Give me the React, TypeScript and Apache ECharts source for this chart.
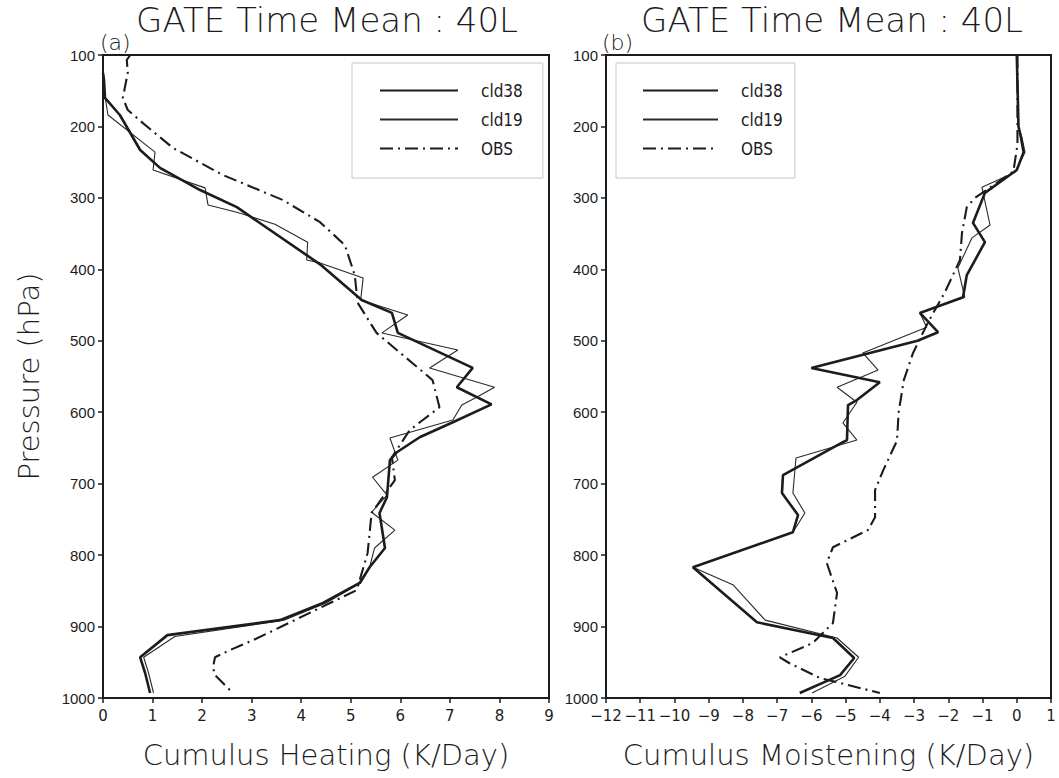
import React, { useEffect, useRef } from "react";
import * as echarts from "echarts";

// ---------- DATA (pressure in hPa, value in K/Day) ----------
const pressureTicks = [100, 200, 300, 400, 500, 600, 700, 800, 900, 1000];
const seriesNames = ["cld38", "cld19", "OBS"];

// Panel (a): Cumulus Heating
const heatCld38P = [125, 135, 160, 184, 233, 258, 289, 313, 393, 443, 461, 489, 538, 565, 589, 614, 635, 656, 667, 719, 741, 790, 817, 839, 867, 891, 912, 943, 965, 993];
const heatCld38V = [0, 0.02, 0.04, 0.34, 0.75, 1.15, 1.96, 2.7, 4.38, 5.22, 5.83, 5.95, 7.46, 7.14, 7.84, 7.06, 6.39, 5.93, 5.79, 5.73, 5.58, 5.69, 5.38, 5.18, 4.44, 3.57, 1.3, 0.75, 0.85, 0.95];

const heatCld19P = [140, 149, 184, 236, 261, 286, 310, 320, 337, 362, 387, 391, 412, 443, 464, 489, 513, 538, 565, 579, 590, 611, 636, 667, 691, 716, 740, 765, 790, 817, 839, 867, 891, 914, 943, 965, 993];
const heatCld19V = [0, 0.02, 0.1, 1.05, 1.01, 2.06, 2.12, 2.7, 3.47, 4.13, 4.11, 4.38, 5.25, 5.2, 6.15, 5.63, 7.16, 6.59, 7.9, 7.54, 7.24, 7.06, 5.79, 5.95, 5.44, 5.73, 5.42, 5.89, 5.48, 5.38, 5.2, 4.5, 3.65, 1.45, 0.82, 0.92, 1.02];

const heatObsP = [100, 107, 125, 160, 177, 195, 230, 268, 303, 334, 366, 408, 447, 489, 555, 593, 625, 663, 695, 741, 797, 849, 901, 919, 933, 943, 957, 968, 993];
const heatObsV = [0.55, 0.48, 0.5, 0.4, 0.5, 0.8, 1.41, 2.42, 3.63, 4.38, 4.88, 5.08, 5.14, 5.52, 6.65, 6.79, 6.19, 5.83, 5.89, 5.42, 5.34, 5.12, 3.57, 3.03, 2.56, 2.26, 2.22, 2.26, 2.62];

// Panel (b): Cumulus Moistening
const moistCld38P = [100, 200, 215, 236, 261, 293, 335, 362, 408, 439, 461, 488, 500, 538, 558, 583, 590, 639, 642, 688, 713, 744, 768, 817, 894, 916, 944, 968, 993];
const moistCld38V = [0, 0.05, 0.12, 0.2, 0, -0.93, -1.28, -0.93, -1.46, -1.57, -2.83, -2.3, -2.9, -6.0, -4.0, -4.67, -4.93, -4.96, -5.08, -6.83, -6.86, -6.39, -6.54, -9.46, -7.59, -5.37, -4.75, -5.16, -6.34];

const moistCld19P = [100, 200, 215, 236, 264, 285, 338, 356, 398, 439, 461, 481, 517, 541, 565, 586, 615, 639, 664, 713, 741, 768, 817, 842, 891, 916, 943, 970, 993];
const moistCld19V = [0, 0.05, 0.15, 0.24, -0.05, -1.02, -0.78, -1.31, -1.72, -1.52, -2.83, -2.63, -4.5, -4.05, -5.25, -4.67, -5.08, -4.67, -6.45, -6.54, -6.19, -6.54, -9.46, -8.28, -7.35, -5.25, -4.62, -5.03, -5.98];

const moistObsP = [100, 226, 263, 300, 313, 349, 387, 432, 475, 517, 555, 600, 640, 681, 709, 747, 765, 789, 811, 853, 895, 923, 943, 951, 972, 993];
const moistObsV = [0.02, 0.02, -0.1, -1.22, -1.46, -1.6, -1.66, -2.1, -2.6, -3.03, -3.3, -3.45, -3.5, -3.9, -4.14, -4.14, -4.35, -5.37, -5.55, -5.25, -5.37, -5.96, -6.92, -6.65, -5.75, -4.0];

// ---------- STYLE ----------
const INK = "#1c1c1c";
const HERSHEY = "DejaVu Sans";
const pair = (v: number[], p: number[]) => v.map((x, i) => [x, p[i]]);
const minus = (v: number) => String(v).replace("-", "\u2212");

const lineStyles: Record<string, any> = {
  cld38: { color: INK, width: 2.6 },
  cld19: { color: "#2a2a2a", width: 1.1 },
  OBS: { color: INK, width: 2.1, type: [13, 5, 2, 5] },
};

function makeXAxis(gridIndex: number, min: number, max: number, name: string) {
  return {
    gridIndex,
    type: "value",
    min,
    max,
    interval: 1,
    position: "bottom",
    name,
    nameLocation: "middle",
    nameGap: 42,
    nameTextStyle: { fontFamily: HERSHEY, fontSize: 29, fontWeight: 200, color: INK },
    axisLine: { show: true, onZero: false, lineStyle: { color: INK, width: 2 } },
    axisTick: { show: true, length: 5, lineStyle: { color: INK, width: 1.5 } },
    axisLabel: { margin: 10, fontFamily: HERSHEY, fontSize: 15, color: INK, formatter: minus },
    splitLine: { show: false },
  };
}

function makeYAxis(gridIndex: number, name: string) {
  return {
    gridIndex,
    type: "value",
    inverse: true,
    min: 100,
    max: 1000,
    interval: 100,
    name,
    nameLocation: "middle",
    nameGap: 60,
    nameRotate: 90,
    nameTextStyle: { fontFamily: HERSHEY, fontSize: 29, fontWeight: 200, color: INK },
    axisLine: { show: true, onZero: false, lineStyle: { color: INK, width: 2 } },
    axisTick: { show: true, length: 5, lineStyle: { color: INK, width: 1.5 } },
    axisLabel: {
      margin: 8,
      fontFamily: "Liberation Sans",
      fontSize: 15,
      color: INK,
      formatter: (v: number) => (pressureTicks.includes(v) ? String(v) : ""),
    },
    splitLine: { show: false },
  };
}

function makeSeries(name: string, gridIdx: number, v: number[], p: number[]) {
  return {
    type: "line",
    name,
    xAxisIndex: gridIdx,
    yAxisIndex: gridIdx,
    data: pair(v, p),
    symbol: "none",
    showSymbol: false,
    lineStyle: lineStyles[name],
    itemStyle: { color: INK },
    z: name === "cld38" ? 4 : 3,
  };
}

function makeLegend(left: number, iconW: number, padL: number, padR: number) {
  return {
    left,
    top: 63,
    orient: "vertical",
    padding: [19, padR, 21, padL],
    itemWidth: iconW,
    itemHeight: 14,
    itemGap: 12,
    borderColor: "#c6c6c6",
    borderWidth: 1,
    selectedMode: false,
    itemStyle: { opacity: 0, borderWidth: 0 },
    data: seriesNames,
    textStyle: {
      fontFamily: "Liberation Sans Narrow, DejaVu Sans Condensed, Liberation Sans",
      fontSize: 17,
      color: INK,
      padding: [0, 0, 0, 18],
    },
  };
}

const titleStyle = (x: number, text: string) => ({
  type: "text",
  x,
  y: 20,
  style: {
    text,
    fontFamily: HERSHEY,
    fontSize: 34,
    fontWeight: 200,
    fill: INK,
    align: "center",
    verticalAlign: "middle",
    textAlign: "center",
    textVerticalAlign: "middle",
  },
});

const tagStyle = (x: number, text: string) => ({
  type: "text",
  x,
  y: 42,
  style: {
    text,
    fontFamily: HERSHEY,
    fontSize: 22,
    fontWeight: 200,
    fill: INK,
    align: "left",
    verticalAlign: "middle",
    textAlign: "left",
    textVerticalAlign: "middle",
  },
});

export default function App() {
  const ref = useRef<HTMLDivElement>(null);
  useEffect(() => {
    if (!ref.current) return;
    const chart = echarts.init(ref.current, undefined, { renderer: "svg" });
    chart.setOption({
      animation: false,
      backgroundColor: "#ffffff",
      grid: [
        { left: 103, top: 55, width: 446, height: 643, show: true, borderColor: INK, borderWidth: 2, backgroundColor: "transparent" },
        { left: 606, top: 55, width: 445, height: 643, show: true, borderColor: INK, borderWidth: 2, backgroundColor: "transparent" },
      ],
      xAxis: [
        makeXAxis(0, 0, 9, "Cumulus Heating (K/Day)"),
        makeXAxis(1, -12, 1, "Cumulus Moistening (K/Day)"),
      ],
      yAxis: [makeYAxis(0, "Pressure (hPa)"), makeYAxis(1, "")],
      legend: [makeLegend(352, 78, 27, 20), makeLegend(616, 75, 26, 12)],
      series: [
        makeSeries("cld38", 0, heatCld38V, heatCld38P),
        makeSeries("cld19", 0, heatCld19V, heatCld19P),
        makeSeries("OBS", 0, heatObsV, heatObsP),
        makeSeries("cld38", 1, moistCld38V, moistCld38P),
        makeSeries("cld19", 1, moistCld19V, moistCld19P),
        makeSeries("OBS", 1, moistObsV, moistObsP),
      ],
      graphic: [
        titleStyle(327, "GATE Time Mean : 40L"),
        titleStyle(832, "GATE Time Mean : 40L"),
        tagStyle(100, "(a)"),
        tagStyle(602, "(b)"),
      ],
    });
    return () => chart.dispose();
  }, []);
  return (
    <div
      ref={ref}
      style={{ position: "fixed", left: 0, top: 0, width: 1059, height: 778, background: "#fff" }}
    />
  );
}
